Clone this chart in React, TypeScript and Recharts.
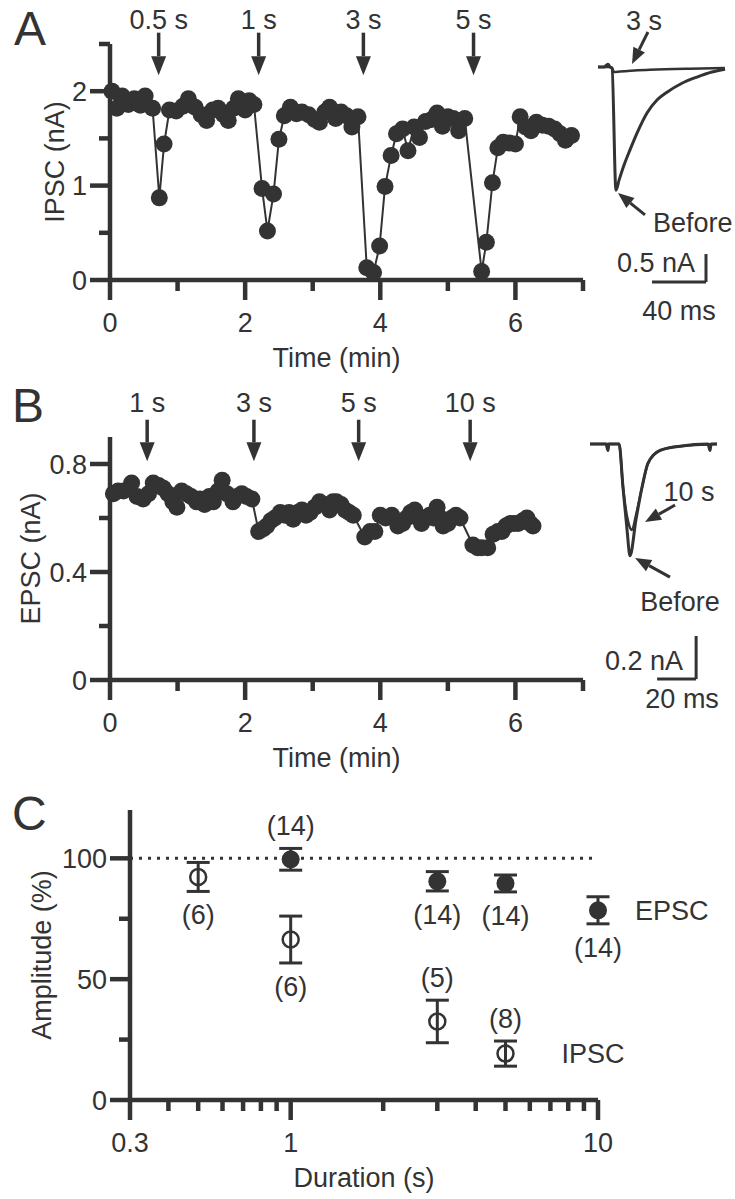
import React from "react";
import {
  ErrorBar,
  Line,
  LineChart,
  ReferenceDot,
  ReferenceLine,
  Scatter,
  ScatterChart,
  XAxis,
  YAxis,
} from "recharts";

const INK = "#333";
const FONT = '"Liberation Sans", Arial, Helvetica, sans-serif';
const FS = 27;

// ---- panel A: IPSC amplitude over time
const ipscTime = [
  0.03, 0.1, 0.18, 0.27, 0.36, 0.45, 0.52, 0.63, 0.73, 0.8, 0.88, 0.98, 1.08, 1.16, 1.26, 1.35,
  1.43, 1.52, 1.6, 1.68, 1.75, 1.83, 1.9, 2.0, 2.06, 2.13, 2.25, 2.33, 2.42, 2.5, 2.58, 2.67,
  2.76, 2.84, 2.94, 3.03, 3.1, 3.18, 3.25, 3.34, 3.42, 3.5, 3.58, 3.67, 3.8, 3.9, 3.99, 4.07,
  4.16, 4.24, 4.33, 4.41, 4.5, 4.58, 4.67, 4.76, 4.84, 4.92, 5.0, 5.08, 5.16, 5.25, 5.5, 5.57,
  5.66, 5.74, 5.82, 5.91, 6.0, 6.07, 6.15, 6.23, 6.31, 6.4, 6.49, 6.58, 6.66, 6.74, 6.83,
];
const ipscAmp = [
  2.0, 1.82, 1.95, 1.86, 1.92, 1.85, 1.95, 1.82, 0.87, 1.44, 1.8, 1.79, 1.84, 1.92, 1.83, 1.75,
  1.69, 1.8, 1.82, 1.75, 1.69, 1.82, 1.92, 1.8, 1.9, 1.86, 0.97, 0.52, 0.91, 1.49, 1.74, 1.83,
  1.76, 1.78, 1.75, 1.7, 1.67, 1.78, 1.83, 1.71, 1.78, 1.74, 1.62, 1.73, 0.13, 0.08, 0.36, 0.99,
  1.32, 1.55, 1.6, 1.37, 1.62, 1.51, 1.68, 1.7, 1.77, 1.63, 1.73, 1.71, 1.58, 1.71, 0.09, 0.4,
  1.03, 1.4, 1.46, 1.45, 1.44, 1.73, 1.62, 1.58, 1.67, 1.64, 1.63, 1.6, 1.55, 1.48, 1.53,
];
const ipscStimTime = [0.72, 2.2, 3.75, 5.38];
const ipscStimLabel = ["0.5 s", "1 s", "3 s", "5 s"];

// ---- panel B: EPSC amplitude over time
const epscTime = [
  0.05, 0.12, 0.2, 0.32, 0.4, 0.49, 0.57, 0.64, 0.72, 0.79, 0.86, 0.93, 0.99, 1.06, 1.13, 1.2,
  1.28, 1.33, 1.4, 1.47, 1.53, 1.6, 1.66, 1.73, 1.82, 1.88, 1.95, 2.02, 2.1, 2.2, 2.27, 2.32,
  2.38, 2.44, 2.52, 2.59, 2.65, 2.71, 2.78, 2.84, 2.9, 2.96, 3.03, 3.1, 3.17, 3.25, 3.3, 3.35,
  3.42, 3.48, 3.54, 3.6, 3.77, 3.85, 3.92, 4.0, 4.08, 4.17, 4.26, 4.33, 4.39, 4.45, 4.51, 4.56,
  4.61, 4.67, 4.73, 4.79, 4.84, 4.89, 4.93, 5.0, 5.06, 5.12, 5.18, 5.37, 5.44, 5.5, 5.59, 5.67,
  5.74, 5.8, 5.86, 5.92, 5.98, 6.04, 6.11, 6.17, 6.22, 6.26,
];
const epscAmp = [
  0.69, 0.7, 0.7, 0.73, 0.68, 0.67, 0.69, 0.73, 0.72, 0.71, 0.69, 0.66, 0.64, 0.7, 0.69, 0.68,
  0.66, 0.67, 0.65, 0.68, 0.66, 0.7, 0.74, 0.69, 0.66, 0.68, 0.69, 0.68, 0.67, 0.55, 0.56, 0.57,
  0.59, 0.6, 0.62, 0.61, 0.62, 0.595, 0.62, 0.63, 0.61, 0.62, 0.64, 0.66, 0.65, 0.63, 0.66, 0.66,
  0.65, 0.63, 0.62, 0.61, 0.53, 0.55, 0.55, 0.61, 0.6, 0.61, 0.57, 0.58, 0.6, 0.62, 0.63, 0.6,
  0.58, 0.6, 0.61, 0.6, 0.64, 0.6, 0.57, 0.58, 0.6, 0.61, 0.6, 0.5, 0.49, 0.49, 0.49, 0.54,
  0.55, 0.55, 0.57, 0.58, 0.58, 0.58, 0.59, 0.6, 0.58, 0.57,
];
const epscStimTime = [0.55, 2.13, 3.68, 5.33];
const epscStimLabel = ["1 s", "3 s", "5 s", "10 s"];

// ---- example traces (ms, nA)
const ipscBeforeMs = [0, 4.4, 7.4, 8.9, 10.4, 13.3, 15.6, 19.3, 23.7, 28.9, 36.3, 43.7, 51.1, 62.2, 73.3, 84.4, 94.1];
const ipscBeforeNa = [0, 0, 0.05, 0, -0.02, -2.2, -2.02, -1.75, -1.48, -1.18, -0.82, -0.59, -0.45, -0.29, -0.18, -0.09, -0.04];
const ipsc3sMs = [0, 8.9, 10.4, 11.9, 16.3, 38.5, 68, 94];
const ipsc3sNa = [0, 0, -0.02, -0.09, -0.08, -0.05, -0.03, -0.02];

const epscBeforeMs = [0, 8.2, 9.2, 9.7, 14.9, 16.9, 19, 20.5, 23.6, 26.7, 29.7, 35.9, 46.2, 60.5, 61.5, 62.1, 65.1];
const epscBeforeNa = [0, 0, -0.03, 0, 0, -0.2, -0.4, -0.52, -0.35, -0.2, -0.09, -0.03, -0.01, 0, -0.03, 0, 0];
const epsc10sMs = [0, 14.9, 16.9, 19.5, 21.5, 23.6, 26.7, 29.7, 35.9, 46.2, 65.1];
const epsc10sNa = [0, 0, -0.2, -0.36, -0.4, -0.33, -0.2, -0.09, -0.03, -0.01, 0];

// ---- panel C: amplitude vs duration
const epscDur = [1, 3, 5, 10];
const epscMean = [99.6, 90.5, 89.6, 78.5];
const epscSem = [4.5, 4, 3.5, 5.6];
const epscN = [14, 14, 14, 14];
const ipscDur = [0.5, 1, 3, 5];
const ipscMean = [92.3, 66.4, 32.5, 19.2];
const ipscSem = [6, 9.7, 8.8, 5.2];
const ipscN = [6, 6, 5, 8];

// which side of the error bar each n label sits on
const epscNUp = [true, false, false, false];
const ipscNUp = [false, false, true, true];

const timeTicks = [0, 1, 2, 3, 4, 5, 6, 7];
const durTicks = [0.3, 0.4, 0.5, 0.6, 0.7, 0.8, 0.9, 1, 2, 3, 4, 5, 6, 7, 8, 9, 10];

const txt = { fontFamily: FONT, fontSize: FS, fill: INK };
const axisLine = { stroke: INK, strokeWidth: 4.5 };

const toXY = (xs: number[], ys: number[]) => xs.map((x, i) => ({ x, y: ys[i] }));

function yTick(major: number[], fmt: (v: number) => string) {
  return (p: any) => {
    const big = major.includes(p.payload.value);
    const len = big ? 20 : 11;
    return (
      <g>
        <line x1={p.x} x2={p.x - len} y1={p.y} y2={p.y} stroke={INK} strokeWidth={4.5} />
        {big && (
          <text x={p.x - 23} y={p.y} dy="0.36em" textAnchor="end" {...txt}>
            {fmt(p.payload.value)}
          </text>
        )}
      </g>
    );
  };
}

function xTick(major: number[]) {
  return (p: any) => {
    const big = major.includes(p.payload.value);
    const len = big ? 20 : 11;
    return (
      <g>
        <line x1={p.x} x2={p.x} y1={p.y} y2={p.y + len} stroke={INK} strokeWidth={4.5} />
        {big && (
          <text x={p.x} y={p.y + 42} dy="0.36em" textAnchor="middle" {...txt}>
            {String(p.payload.value)}
          </text>
        )}
      </g>
    );
  };
}

const xTitle = (text: string, dx = 0) => (p: any) => {
  const vb = p.viewBox;
  return (
    <text x={vb.x + vb.width / 2 + dx} y={vb.y + 77} dy="0.36em" textAnchor="middle" {...txt}>
      {text}
    </text>
  );
};

const yTitle = (text: string, gap: number) => (p: any) => {
  const vb = p.viewBox;
  const cx = vb.x + vb.width - gap;
  const cy = vb.y + vb.height / 2;
  return (
    <text x={cx} y={cy} dy="0.36em" textAnchor="middle" transform={`rotate(-90 ${cx} ${cy})`} {...txt}>
      {text}
    </text>
  );
};

// line from (x1,y1) to (x2,y2), optional arrow head at the end and a text near (x1,y1)
function Mark(props: any) {
  const { x1, y1, x2, y2, text, tx = 0, ty = -14, anchor = "middle", head = 0, half = 7.5, sw = 3.5 } = props;
  const len = Math.hypot(x2 - x1, y2 - y1) || 1;
  const ux = (x2 - x1) / len;
  const uy = (y2 - y1) / len;
  const bx = x2 - ux * head;
  const by = y2 - uy * head;
  return (
    <g>
      <line x1={x1} y1={y1} x2={bx} y2={by} stroke={INK} strokeWidth={sw} />
      {head > 0 && (
        <polygon
          points={`${x2},${y2} ${bx - uy * half},${by + ux * half} ${bx + uy * half},${by - ux * half}`}
          fill={INK}
        />
      )}
      {text && (
        <text x={x1 + tx} y={y1 + ty} dy="0.36em" textAnchor={anchor} {...txt}>
          {text}
        </text>
      )}
    </g>
  );
}

function TimeCourse(props: {
  top: number;
  height: number;
  data: { t: number; v: number }[];
  yMax: number;
  yTicks: number[];
  yMajor: number[];
  title: string;
  titleGap: number;
  stimTime: number[];
  stimLabel: string[];
  arrowTop: number;
  arrowTip: number;
  textDy: number;
  marginTop: number;
}) {
  const { top, height, data, yMax, yTicks, yMajor, title, titleGap, stimTime, stimLabel, arrowTop, arrowTip, textDy, marginTop } = props;
  return (
    <div style={{ position: "absolute", left: 0, top }}>
      <LineChart width={735} height={height} data={data} margin={{ top: marginTop, right: 152, bottom: 0, left: 0 }}>
        <XAxis
          type="number"
          dataKey="t"
          domain={[0, 7]}
          ticks={timeTicks}
          interval={0}
          height={100}
          tickSize={0}
          tickMargin={0}
          tickLine={false}
          axisLine={axisLine}
          tick={xTick([0, 2, 4, 6])}
          label={xTitle("Time (min)", -10)}
        />
        <YAxis
          type="number"
          domain={[0, yMax]}
          ticks={yTicks}
          interval={0}
          width={110}
          tickSize={0}
          tickMargin={0}
          tickLine={false}
          axisLine={axisLine}
          tick={yTick(yMajor, (v) => String(v))}
          label={yTitle(title, titleGap)}
        />
        <Line
          type="linear"
          dataKey="v"
          stroke={INK}
          strokeWidth={2}
          dot={{ r: 8.5, fill: INK, stroke: "none" }}
          isAnimationActive={false}
        />
        {stimTime.map((t, i) => (
          <ReferenceLine
            key={i}
            segment={[
              { x: t, y: arrowTop },
              { x: t, y: arrowTip },
            ]}
            ifOverflow="visible"
            shape={(p: any) => <Mark {...p} text={stimLabel[i]} ty={textDy} head={19} half={7.5} />}
          />
        ))}
      </LineChart>
    </div>
  );
}

export default function App() {
  const ipscData = ipscTime.map((t, i) => ({ t, v: ipscAmp[i] }));
  const epscData = epscTime.map((t, i) => ({ t, v: epscAmp[i] }));

  const epscPts = epscDur.map((d, i) => ({ d, m: epscMean[i], e: epscSem[i] }));
  const ipscPts = ipscDur.map((d, i) => ({ d, m: ipscMean[i], e: ipscSem[i] }));
  const epscLbl = epscDur.map((d, i) => ({
    d,
    m: epscNUp[i] ? epscMean[i] + epscSem[i] : epscMean[i] - epscSem[i],
    n: epscN[i],
    up: epscNUp[i],
  }));
  const ipscLbl = ipscDur.map((d, i) => ({
    d,
    m: ipscNUp[i] ? ipscMean[i] + ipscSem[i] : ipscMean[i] - ipscSem[i],
    n: ipscN[i],
    up: ipscNUp[i],
  }));

  const nLabel = (p: any) => (
    <text x={p.cx} y={p.cy + (p.payload.up ? -23 : 23)} dy="0.36em" textAnchor="middle" {...txt}>
      ({p.payload.n})
    </text>
  );

  return (
    <div style={{ position: "absolute", left: 0, top: 0, width: 735, height: 1199, overflow: "hidden", background: "#fff" }}>
      <svg width={735} height={1199} style={{ position: "absolute", left: 0, top: 0 }}>
        <text x={14} y={45} fontFamily={FONT} fontSize={48} fill={INK}>A</text>
        <text x={12} y={422} fontFamily={FONT} fontSize={48} fill={INK}>B</text>
        <text x={12} y={830} fontFamily={FONT} fontSize={48} fill={INK}>C</text>
      </svg>

      <TimeCourse
        top={0}
        height={380}
        data={ipscData}
        yMax={2.5}
        yTicks={[0, 0.5, 1, 1.5, 2, 2.5]}
        yMajor={[0, 1, 2]}
        title="IPSC (nA)"
        titleGap={56}
        stimTime={ipscStimTime}
        stimLabel={ipscStimLabel}
        arrowTop={2.62}
        arrowTip={2.17}
        textDy={-13}
        marginTop={44}
      />

      <div style={{ position: "absolute", left: 560, top: 0 }}>
        <LineChart width={175} height={330} margin={{ top: 39, right: 2, bottom: 11, left: 38 }}>
          <XAxis type="number" dataKey="x" domain={[0, 100]} hide />
          <YAxis type="number" dataKey="y" domain={[-4.5, 0.5]} hide />
          <Line data={toXY(ipscBeforeMs, ipscBeforeNa)} dataKey="y" type="monotone" stroke={INK} strokeWidth={3} dot={false} isAnimationActive={false} />
          <Line data={toXY(ipsc3sMs, ipsc3sNa)} dataKey="y" type="monotone" stroke={INK} strokeWidth={2.5} dot={false} isAnimationActive={false} />
          <ReferenceLine segment={[{ x: 37, y: 0.625 }, { x: 25.2, y: 0.054 }]} ifOverflow="visible"
            shape={(p: any) => <Mark {...p} text="3 s" tx={-4} ty={-12} head={16} half={6.5} sw={3} />} />
          <ReferenceLine segment={[{ x: 34.8, y: -2.64 }, { x: 14.8, y: -2.25 }]} ifOverflow="visible"
            shape={(p: any) => <Mark {...p} text="Before" tx={8} ty={7} anchor="start" head={16} half={6.5} sw={3} />} />
          <ReferenceLine segment={[{ x: 40, y: -3.84 }, { x: 80, y: -3.84 }]} ifOverflow="visible"
            shape={(p: any) => <Mark {...p} text="40 ms" tx={27} ty={28} sw={3} />} />
          <ReferenceLine segment={[{ x: 80, y: -3.84 }, { x: 80, y: -3.34 }]} ifOverflow="visible"
            shape={(p: any) => <Mark {...p} text="0.5 nA" tx={-11} ty={-20} anchor="end" sw={3} />} />
        </LineChart>
      </div>

      <TimeCourse
        top={370}
        height={410}
        data={epscData}
        yMax={0.9}
        yTicks={[0, 0.2, 0.4, 0.6, 0.8]}
        yMajor={[0, 0.4, 0.8]}
        title="EPSC (nA)"
        titleGap={80}
        stimTime={epscStimTime}
        stimLabel={epscStimLabel}
        arrowTop={0.964}
        arrowTip={0.81}
        textDy={-17}
        marginTop={67}
      />

      <div style={{ position: "absolute", left: 560, top: 401 }}>
        <LineChart width={175} height={325} margin={{ top: 0, right: 2, bottom: 24, left: 30 }}>
          <XAxis type="number" dataKey="x" domain={[0, 73.3]} hide />
          <YAxis type="number" dataKey="y" domain={[-1.2, 0.2]} hide />
          <Line data={toXY(epscBeforeMs, epscBeforeNa)} dataKey="y" type="monotone" stroke={INK} strokeWidth={3} dot={false} isAnimationActive={false} />
          <Line data={toXY(epsc10sMs, epsc10sNa)} dataKey="y" type="monotone" stroke={INK} strokeWidth={2.5} dot={false} isAnimationActive={false} />
          <ReferenceLine segment={[{ x: 43.6, y: -0.284 }, { x: 28.2, y: -0.363 }]} ifOverflow="visible"
            shape={(p: any) => <Mark {...p} text="10 s" tx={14} ty={-14} head={16} half={6.5} sw={3} />} />
          <ReferenceLine segment={[{ x: 41, y: -0.619 }, { x: 23.1, y: -0.53 }]} ifOverflow="visible"
            shape={(p: any) => <Mark {...p} text="Before" tx={10} ty={24} head={16} half={6.5} sw={3} />} />
          <ReferenceLine segment={[{ x: 34.4, y: -1.093 }, { x: 54.4, y: -1.093 }]} ifOverflow="visible"
            shape={(p: any) => <Mark {...p} text="20 ms" tx={25} ty={19} sw={3} />} />
          <ReferenceLine segment={[{ x: 54.4, y: -1.093 }, { x: 54.4, y: -0.893 }]} ifOverflow="visible"
            shape={(p: any) => <Mark {...p} text="0.2 nA" tx={-13} ty={-19} anchor="end" sw={3} />} />
        </LineChart>
      </div>

      <div style={{ position: "absolute", left: 0, top: 780 }}>
        <ScatterChart width={735} height={419} margin={{ top: 30, right: 137, bottom: 0, left: 0 }}>
          <XAxis
            type="number"
            dataKey="d"
            scale="log"
            domain={[0.3, 10]}
            ticks={durTicks}
            interval={0}
            height={99}
            tickSize={0}
            tickMargin={0}
            tickLine={false}
            axisLine={axisLine}
            tick={xTick([0.3, 1, 10])}
            label={xTitle("Duration (s)")}
          />
          <YAxis
            type="number"
            dataKey="m"
            domain={[0, 120]}
            ticks={[0, 25, 50, 75, 100]}
            interval={0}
            width={130}
            tickSize={0}
            tickMargin={0}
            tickLine={false}
            axisLine={axisLine}
            tick={yTick([0, 50, 100], (v) => String(v))}
            label={yTitle("Amplitude (%)", 89)}
          />
          <ReferenceLine y={100} stroke={INK} strokeWidth={3} strokeDasharray="3 6" />
          <Scatter
            data={ipscPts}
            isAnimationActive={false}
            shape={(p: any) => <circle cx={p.cx} cy={p.cy} r={8} fill="none" stroke={INK} strokeWidth={2.5} />}
          >
            <ErrorBar dataKey="e" direction="y" width={11.5} stroke={INK} strokeWidth={3} isAnimationActive={false} />
          </Scatter>
          <Scatter
            data={epscPts}
            isAnimationActive={false}
            shape={(p: any) => <circle cx={p.cx} cy={p.cy} r={9} fill={INK} />}
          >
            <ErrorBar dataKey="e" direction="y" width={11.5} stroke={INK} strokeWidth={3} isAnimationActive={false} />
          </Scatter>
          <Scatter data={epscLbl} isAnimationActive={false} shape={nLabel} />
          <Scatter data={ipscLbl} isAnimationActive={false} shape={nLabel} />
          <ReferenceDot x={10} y={epscMean[3]} r={0} fill="none" stroke="none"
            label={{ value: "EPSC", position: "right", offset: 37, fill: INK, fontSize: FS, fontFamily: FONT }} />
          <ReferenceDot x={5} y={ipscMean[3]} r={0} fill="none" stroke="none"
            label={{ value: "IPSC", position: "right", offset: 56, fill: INK, fontSize: FS, fontFamily: FONT }} />
        </ScatterChart>
      </div>
    </div>
  );
}
